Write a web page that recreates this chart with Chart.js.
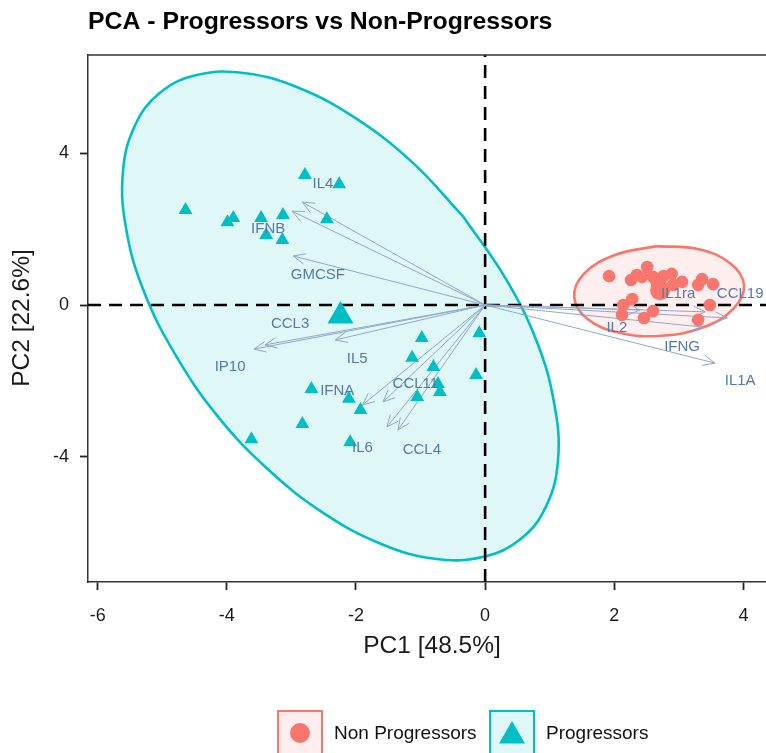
<!DOCTYPE html>
<html><head><meta charset="utf-8">
<script src="https://cdn.jsdelivr.net/npm/chart.js@4/dist/chart.umd.min.js"></script>
<style>html,body{margin:0;padding:0;background:#fff;overflow:hidden}canvas{display:block}</style>
</head><body>
<canvas id="c" width="766" height="753"></canvas>
<script>
// ---------- data ----------
const chartTitle = "PCA - Progressors vs Non-Progressors";
const xAxisTitle = "PC1 [48.5%]";
const yAxisTitle = "PC2 [22.6%]";
const groupNames = ["Non Progressors", "Progressors"];
const xTicks = [-6, -4, -2, 0, 2, 4];
const yTicks = [-4, 0, 4];
const xLimits = [-6.15, 4.35];
const yLimits = [-7.29, 6.58];

const progX = [-4.64,-3.99,-3.90,-3.47,-3.13,-3.39,-3.14,-2.79,-2.26,-2.45,
               -0.98,-1.13,-0.80,-0.09,-0.14,-0.73,-0.70,-1.05,
               -2.69,-2.11,-1.93,-2.83,-3.62,-2.09];
const progY = [ 2.50, 2.18, 2.29, 2.29, 2.37, 1.84, 1.71, 3.42, 3.18, 2.26,
               -0.87,-1.39,-1.63,-0.74,-1.84,-2.08,-2.29,-2.42,
               -2.21,-2.47,-2.76,-3.13,-3.53,-3.61];
const nonProgX = [1.92,2.26,2.35,2.43,2.51,2.60,2.66,2.76,2.89,2.91,3.05,3.30,3.36,3.53,2.28,2.14,2.12,2.60,2.46,3.48,3.30];
const nonProgY = [0.76,0.66,0.79,0.74,1.00,0.74,0.58,0.76,0.82,0.53,0.61,0.53,0.68,0.55,0.16,0.00,-0.26,-0.16,-0.34,0.00,-0.39];
const centroidProg = [-2.24, -0.29];
const centroidNonProg = [2.71, 0.39];

// ellipse outlines (closed: first point repeated)
const ellipseProgX = [-0.34,-1.13,-2.00,-2.88,-3.71,-4.45,-5.04,-5.43,-5.61,-5.56,-5.29,-4.80,-4.15,-3.36,-2.49,-1.61,-0.78,-0.04,0.55,0.95,1.13,1.07,0.80,0.31,-0.34];
const ellipseProgY = [ 2.33, 3.76, 4.91, 5.71, 6.10, 6.06, 5.58, 4.70, 3.48, 2.01, 0.38,-1.30,-2.91,-4.33,-5.49,-6.29,-6.68,-6.63,-6.16,-5.28,-4.06,-2.59,-0.96,0.72,2.33];
const ellipseNonProgX = [2.65,2.00,1.53,1.38,1.58,2.08,2.74,3.39,3.85,4.01,3.80,3.31,2.65];
const ellipseNonProgY = [1.55,1.31,0.82,0.21,-0.36,-0.73,-0.81,-0.58,-0.09,0.52,1.09,1.47,1.55];

const varNames  = ["IL4","IFNB","GMCSF","CCL3","IP10","IL5","IFNA","CCL11","IL6","CCL4","IL2","IL1ra","CCL19","IFNG","IL1A"];
const varX      = [-2.83,-2.99,-2.97,-3.41,-3.58,-2.32,-1.90,-1.58,-1.52,-1.35,2.40,3.41,3.75,3.37,3.56];
const varY      = [ 2.71, 2.47, 1.29,-1.05,-1.16,-0.92,-2.63,-2.55,-3.21,-3.29,-0.13,-0.18,-0.34,-0.58,-1.53];
const varLabelX = [-2.51,-3.36,-2.59,-3.02,-3.95,-1.98,-2.29,-1.08,-1.90,-0.98,2.04,2.99,3.95,3.05,3.95];
const varLabelY = [ 3.18, 2.00, 0.79,-0.50,-1.63,-1.42,-2.26,-2.08,-3.76,-3.82,-0.61,0.29,0.29,-1.11,-2.00];

// ---------- styles ----------
const TEAL = '#00BFC4', SALMON = '#F8766D';
const TEAL_FILL = 'rgba(0,191,196,0.12)', SALMON_FILL = 'rgba(248,118,109,0.12)';
const ARROW = '#8fa7ca', VARTXT = '#5579a9';
const FONT = '"Liberation Sans", Arial, Helvetica, sans-serif';

const pts = (xs, ys) => xs.map((x, i) => ({x, y: ys[i]}));

const datasets = [];
datasets.push({label: groupNames[1], data: pts(progX, progY), pointStyle: 'triangle', pointRadius: 8,
  backgroundColor: TEAL, borderColor: TEAL, borderWidth: 0, order: 1});
datasets.push({label: groupNames[0], data: pts(nonProgX, nonProgY), pointStyle: 'circle', pointRadius: 6.3,
  backgroundColor: SALMON, borderColor: SALMON, borderWidth: 0, order: 1});
datasets.push({label: 'centroidP', data: [{x: centroidProg[0], y: centroidProg[1]}], pointStyle: 'triangle', pointRadius: 15,
  backgroundColor: TEAL, borderWidth: 0, order: 2});
datasets.push({label: 'centroidN', data: [{x: centroidNonProg[0], y: centroidNonProg[1]}], pointStyle: 'circle', pointRadius: 10,
  backgroundColor: SALMON, borderWidth: 0, order: 2});
varNames.forEach((n, i) => {
  datasets.push({label: n, data: [{x: 0, y: 0}, {x: varX[i], y: varY[i]}], showLine: true, pointRadius: 0,
    borderColor: ARROW, borderWidth: 1, order: 3, arrowTip: true});
});
datasets.push({label: 'h0', data: [{x: xLimits[0], y: 0}, {x: xLimits[1], y: 0}], showLine: true, pointRadius: 0,
  borderColor: '#000', borderWidth: 2.6, borderDash: [13, 8], order: 4});
datasets.push({label: 'v0', data: [{x: 0, y: yLimits[0]}, {x: 0, y: yLimits[1]}], showLine: true, pointRadius: 0,
  borderColor: '#000', borderWidth: 2.6, borderDash: [13, 8], order: 4});
datasets.push({label: 'ellP', data: pts(ellipseProgX, ellipseProgY), showLine: true, pointRadius: 0, tension: 0.4,
  borderColor: TEAL, borderWidth: 2.6, order: 5, ellipseFill: TEAL_FILL});
datasets.push({label: 'ellN', data: pts(ellipseNonProgX, ellipseNonProgY), showLine: true, pointRadius: 0, tension: 0.4,
  borderColor: SALMON, borderWidth: 2.6, order: 5, ellipseFill: SALMON_FILL});

const decor = {
  id: 'decor',
  beforeDatasetDraw(chart, args) {
    const ds = chart.data.datasets[args.index];
    if (!ds.ellipseFill) return;
    const ctx = chart.ctx, line = args.meta.dataset;
    line.updateControlPoints(chart.chartArea, 'x');
    ctx.save();
    ctx.beginPath();
    line.path(ctx);
    ctx.closePath();
    ctx.fillStyle = ds.ellipseFill;
    ctx.fill();
    ctx.restore();
  },
  afterDatasetDraw(chart, args) {
    const ds = chart.data.datasets[args.index];
    if (!ds.arrowTip) return;
    const xs = chart.scales.x, ys = chart.scales.y, ctx = chart.ctx;
    const x0 = xs.getPixelForValue(ds.data[0].x), y0 = ys.getPixelForValue(ds.data[0].y);
    const x1 = xs.getPixelForValue(ds.data[1].x), y1 = ys.getPixelForValue(ds.data[1].y);
    const a = Math.atan2(y1 - y0, x1 - x0), L = 13, w = 0.42;
    ctx.save();
    ctx.strokeStyle = ARROW; ctx.lineWidth = 1;
    ctx.beginPath();
    ctx.moveTo(x1 - L * Math.cos(a - w), y1 - L * Math.sin(a - w));
    ctx.lineTo(x1, y1);
    ctx.lineTo(x1 - L * Math.cos(a + w), y1 - L * Math.sin(a + w));
    ctx.stroke();
    ctx.restore();
  },
  afterDatasetsDraw(chart) {
    const xs = chart.scales.x, ys = chart.scales.y, ctx = chart.ctx;
    ctx.save();
    ctx.font = '15px ' + FONT;
    ctx.fillStyle = VARTXT;
    ctx.textAlign = 'center'; ctx.textBaseline = 'middle';
    varNames.forEach((n, i) => ctx.fillText(n, xs.getPixelForValue(varLabelX[i]), ys.getPixelForValue(varLabelY[i])));
    ctx.restore();
  },
  afterDraw(chart) {
    const ctx = chart.ctx, ca = chart.chartArea;
    ctx.save();
    ctx.strokeStyle = '#333'; ctx.lineWidth = 1.5;
    ctx.beginPath(); ctx.moveTo(ca.left, ca.top); ctx.lineTo(ca.right, ca.top); ctx.stroke();
    ctx.fillStyle = '#000';
    ctx.font = 'bold 24.8px ' + FONT;
    ctx.textAlign = 'left'; ctx.textBaseline = 'alphabetic';
    ctx.fillText(chartTitle, 88, 29);
    ctx.font = '24.5px ' + FONT;
    ctx.fillStyle = '#1a1a1a';
    ctx.textAlign = 'center'; ctx.textBaseline = 'middle';
    ctx.fillText(xAxisTitle, 432, 646);
    ctx.save(); ctx.translate(22, 318); ctx.rotate(-Math.PI / 2); ctx.fillText(yAxisTitle, 0, 0); ctx.restore();
    const boxY = 711, box = 44;
    ctx.lineWidth = 2;
    ctx.fillStyle = SALMON_FILL; ctx.fillRect(278, boxY, box, box);
    ctx.strokeStyle = SALMON; ctx.strokeRect(278, boxY, box, box);
    ctx.fillStyle = SALMON; ctx.beginPath(); ctx.arc(300, 733, 10, 0, Math.PI * 2); ctx.fill();
    ctx.fillStyle = TEAL_FILL; ctx.fillRect(490, boxY, box, box);
    ctx.strokeStyle = TEAL; ctx.strokeRect(490, boxY, box, box);
    ctx.fillStyle = TEAL; ctx.beginPath();
    const tr = 15, cx = 512, cy = 736;
    ctx.moveTo(cx, cy - tr);
    ctx.lineTo(cx + tr * Math.sin(2 * Math.PI / 3), cy + tr / 2);
    ctx.lineTo(cx - tr * Math.sin(2 * Math.PI / 3), cy + tr / 2);
    ctx.closePath(); ctx.fill();
    ctx.fillStyle = '#111';
    ctx.font = '19px ' + FONT;
    ctx.textAlign = 'left'; ctx.textBaseline = 'middle';
    ctx.fillText(groupNames[0], 334, 734);
    ctx.fillText(groupNames[1], 546, 734);
    ctx.restore();
  }
};

const axisCommon = {
  type: 'linear',
  grid: {display: true, drawOnChartArea: false, drawTicks: true, tickLength: 8, tickWidth: 1.8, tickColor: '#222'},
  border: {display: true, color: '#333', width: 1.5},
  ticks: {font: {size: 18, family: FONT}, color: '#1a1a1a'}
};

new Chart(document.getElementById('c'), {
  type: 'scatter',
  data: {datasets},
  options: {
    responsive: false, animation: false, devicePixelRatio: 1,
    layout: {autoPadding: false, padding: {top: 55, left: 0, right: 0, bottom: 0}},
    plugins: {legend: {display: false}, tooltip: {enabled: false}, title: {display: false}},
    scales: {
      x: Object.assign({}, axisCommon, {
        min: xLimits[0], max: xLimits[1],
        afterFit: s => { s.height = 753 - 582; s.paddingLeft = 0; s.paddingRight = 0; },
        afterBuildTicks: s => { s.ticks = xTicks.map(v => ({value: v})); },
        ticks: Object.assign({}, axisCommon.ticks, {padding: 15})
      }),
      y: Object.assign({}, axisCommon, {
        min: yLimits[0], max: yLimits[1],
        afterFit: s => { s.width = 88; s.paddingTop = 0; s.paddingBottom = 0; },
        afterBuildTicks: s => { s.ticks = yTicks.map(v => ({value: v})); },
        ticks: Object.assign({}, axisCommon.ticks, {padding: 11})
      })
    }
  },
  plugins: [decor]
});
</script>
</body></html>
